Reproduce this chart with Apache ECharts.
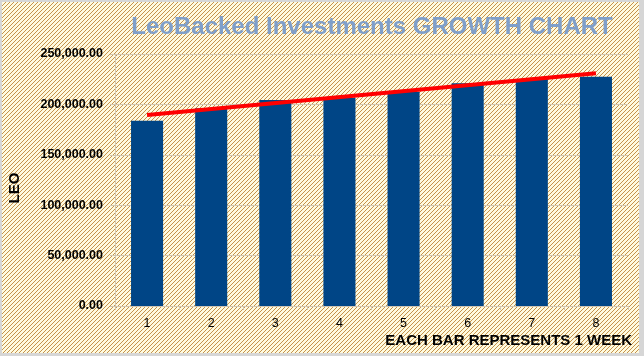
<!DOCTYPE html>
<html>
<head>
<meta charset="utf-8">
<script src="https://cdn.jsdelivr.net/npm/echarts@6/dist/echarts.min.js"></script>
<style>
html,body{margin:0;padding:0;}
#c{width:644px;height:356px;}
</style>
</head>
<body>
<div id="c"></div>
<script>
// ---- data ----
var categories = ['1','2','3','4','5','6','7','8'];
var leoValues = [183800, 196100, 204400, 206600, 212600, 220900, 225200, 227500];
var trendValues = [189500, null, null, null, null, null, null, 230800];
var yTicks = { min: 0, max: 250000, interval: 50000 };
var titleText = 'LeoBacked Investments GROWTH CHART';
var yName = 'LEO';
var xName = 'EACH BAR REPRESENTS 1 WEEK';

// hatch pattern tile
var tile = document.createElement('canvas');
tile.width = 4; tile.height = 4;
var g = tile.getContext('2d');
g.fillStyle = '#fffadf';
g.fillRect(0,0,4,4);
g.fillStyle = '#c4924c';
for (var i = 0; i < 4; i++) { g.fillRect(3 - i, i, 1, 1); }
var el = document.getElementById('c');
el.style.backgroundImage = 'url(' + tile.toDataURL() + ')';
el.style.backgroundRepeat = 'repeat';

var chart = echarts.init(el, null, { renderer: 'canvas' });
var axisCol = '#d2c6b2';
chart.setOption({
  animation: false,
  backgroundColor: 'transparent',
  grid: { left: 115, right: 16, top: 54, bottom: 50 },
  xAxis: {
    type: 'category',
    data: categories,
    axisLine: { lineStyle: { color: axisCol, width: 1 } },
    axisTick: { show: true, length: 4, lineStyle: { color: axisCol } },
    axisLabel: { color: '#000', fontSize: 12.5, fontFamily: 'Liberation Sans', margin: 11 },
    splitLine: { show: false }
  },
  yAxis: {
    type: 'value',
    min: yTicks.min, max: yTicks.max, interval: yTicks.interval,
    axisLine: { show: true, lineStyle: { color: axisCol } },
    axisTick: { show: true, length: 5, lineStyle: { color: axisCol } },
    axisLabel: {
      color: '#000', fontSize: 12.5, fontWeight: 'bold', fontFamily: 'Liberation Sans', margin: 12,
      formatter: function (v) { return v.toLocaleString('en-US', { minimumFractionDigits: 2, maximumFractionDigits: 2 }); }
    },
    splitLine: { show: true, lineStyle: { color: axisCol, width: 1 } }
  },
  series: [
    {
      type: 'bar',
      data: leoValues,
      barCategoryGap: '50%',
      itemStyle: { color: '#004586' },
      z: 2
    },
    {
      type: 'line',
      data: trendValues,
      connectNulls: true,
      symbol: 'none',
      lineStyle: { color: '#ff0000', width: 4 },
      z: 3
    }
  ],
  graphic: [
    { type: 'text', x: 372, y: 27, style: { text: titleText, fill: '#7f9fca', font: 'bold 24px "Liberation Sans"', textAlign: 'center', textVerticalAlign: 'middle' } },
    { type: 'text', x: 15, y: 188, rotation: Math.PI / 2, style: { text: yName, fill: '#000', font: 'bold 15px "Liberation Sans"', textAlign: 'center', textVerticalAlign: 'middle' } },
    { type: 'text', x: 632, y: 341, style: { text: xName, fill: '#000', font: 'bold 15px "Liberation Sans"', textAlign: 'right', textVerticalAlign: 'middle' } },
    { type: 'rect', shape: { x: 0, y: 0, width: 644, height: 2 }, style: { fill: '#d6d6d6' }, z: 100 },
    { type: 'rect', shape: { x: 0, y: 0, width: 2, height: 356 }, style: { fill: '#d6d6d6' }, z: 100 },
    { type: 'rect', shape: { x: 639, y: 0, width: 5, height: 356 }, style: { fill: '#d6d6d6' }, z: 100 },
    { type: 'rect', shape: { x: 0, y: 353, width: 644, height: 3 }, style: { fill: '#d6d6d6' }, z: 100 }
  ]
});
</script>
</body>
</html>
